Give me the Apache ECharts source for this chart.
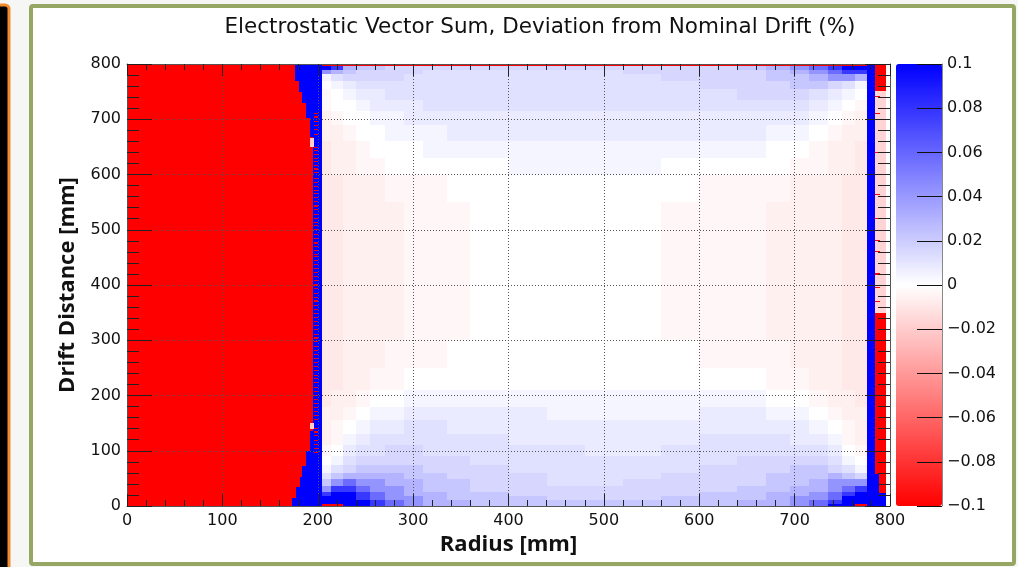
<!DOCTYPE html>
<html><head><meta charset="utf-8">
<script src="https://cdn.jsdelivr.net/npm/echarts@6/dist/echarts.min.js"></script>
<style>html,body{margin:0;padding:0;background:#f6f6f4;}#c{width:1018px;height:567px;}</style>
</head><body><div id="c"></div>
<script>
// ---------------- DATA ----------------
const titleText = 'Electrostatic Vector Sum, Deviation from Nominal Drift (%)';
const xName = 'Radius [mm]';
const yName = 'Drift Distance [mm]';
const colorMin = -0.1, colorMax = 0.1;

// value code -> deviation (%)
const codeValue = {'.':0,'1':0.004,'2':0.008,'3':0.012,'4':0.016,'5':0.022,'6':0.03,'7':0.042,'8':0.058,'9':0.078,'X':0.1,
  'a':-0.003,'b':-0.006,'c':-0.009,'d':-0.015,'R':-0.1};

// interior field (radius 204..776 mm), bin edges
const interiorX = [204,214,226,240,255,270,290,310,335,360,400,440,480,520,560,600,640,670,695,715,735,750,763,776];
const interiorY = [0,4,10,18,26,36,48,60,75,90,110,130,155,180,210,250,300,350,400,450,500,550,600,
  630,660,690,715,735,755,770,782,790,796,800];
// one string per y bin (bottom -> top), one char per x bin
const interiorRows = [
  'RRXX9876655555556678XXR',
  'XXXX98766555555566789XX',
  'XXX987765554445556778XX',
  '9XX9876655444445566789X',
  '79987765544444445566789',
  '57877665544334444556777',
  '35666655444333444555654',
  '13455554443333344455431',
  '.134444443333333444431.',
  'a.2334433333223333332.a',
  'ba1233333322222333221ab',
  'ba.12233222222222221.ab',
  'bba.112222211112211.abb',
  'cbba..11111111111..abbc',
  'ccbbaa...........aabbcc',
  'ccbbbaaa.......aaabbbcc',
  'ccbbbbaaa.....aaabbbbcc',
  'ccbbbbaaa.....aaabbbbcc',
  'ccbbbbaaa.....aaabbbbcc',
  'ccbbbbaaa.....aaabbbbcc',
  'ccbbbbaaa.....aaabbbbcc',
  'ccbbbaaa.......aaabbbcc',
  'cbbaa.....1111....aabbc',
  'cbba...1111111111..abbc',
  'bba..11122222222211.abb',
  'ba..1122222222222221.ab',
  'a..122233333333333321.a',
  'a.12233333333333444321.',
  '.1233333333333344455431',
  '13444433333333444556776',
  '76544443333334444567899',
  'X96554444444444456789XX',
  'RRRRRRRRRRRRRRRRRRRRRRR'
];

// left (inner) wall: [y0, y1, red edge x, blue edge x]
const leftWallRows = [
  [0,14,173,204],[14,34,177,204],[34,52,181,204],[52,72,184,204],[72,100,188,204],
  [100,136,192,204],[136,668,195,204],[668,702,192,204],[702,730,188,204],
  [730,750,184,204],[750,770,180,204],[770,800,176,204]
];
// red dashes inside the left blue wall (y, mm)
const leftDashY = [97,104,112,119,127,134,141,156,163,171,178,186,193,200,208,215,223,230,237,245,252,260,
  267,274,282,289,297,304,311,319,326,334,341,348,356,363,371,378,385,393,400,408,415,422,430,437,
  444,451,456,463,469,476,484,492,500,507,513,521,528,536,543,551,559,566,571,578,585,593,604,610,
  617,623,629,637,643,649,673,682,688,696,704,711];
const leftDashX = [196, 200];
// pale bins at the left wall: [x0,x1,y0,y1,value]
const leftPale = [[192,196,140,151,-0.02],[192,196,650,666,-0.02]];

// outer wall columns: [x0, x1, y0, y1, value]
const rightWall = [
  [776,784,0,800,0.1],
  [784,796,0,24,0.1],
  [784,788,24,58,0.1],[788,796,24,58,-0.1],
  [784,796,58,350,-0.1],
  [784,796,350,752,-0.017],
  [784,796,752,800,-0.1],
  [796,800,0,800,0]
];
// red dashes in the outer wall (y, mm)
const rightDashY = [741,711,640,600,563,521,481,460,420,395,370];
const rightDashX = [784, 789];

// ---------------- build cells ----------------
const cells = [];
leftWallRows.forEach(r => {
  cells.push([0, r[2], r[0], r[1], colorMin]);
  cells.push([r[2], r[3], r[0], r[1], colorMax]);
});
leftPale.forEach(c => cells.push(c));
leftDashY.forEach(y => cells.push([leftDashX[0], leftDashX[1], y - 1, y + 1, colorMin]));
interiorRows.forEach((row, j) => {
  for (let i = 0; i < row.length; i++) {
    cells.push([interiorX[i], interiorX[i + 1], interiorY[j], interiorY[j + 1], codeValue[row[i]]]);
  }
});
rightWall.forEach(c => cells.push(c));
rightDashY.forEach(y => cells.push([rightDashX[0], rightDashX[1], y - 1, y + 1, colorMin]));

// ---------------- chart ----------------
const FONT = '"DejaVu Sans", "Liberation Sans", Arial, sans-serif';
const NAMEFONT = '"Open Sans", Lato, sans-serif';
const minus = s => s.replace('-', '\u2212');
const gridLine = {show: true, lineStyle: {color: '#555', type: [1, 2], width: 1}};

function mainAxis(extra) {
  return Object.assign({
    type: 'value', min: 0, max: 800, interval: 100, gridIndex: 0, z: 10,
    axisLine: {show: true, onZero: false, lineStyle: {color: '#555', width: 1}},
    splitLine: {show: false},
    axisLabel: {show: false}
  }, extra);
}

const chart = echarts.init(document.getElementById('c'), null, {renderer: 'canvas'});
chart.setOption({
  backgroundColor: '#f6f6f4',
  animation: false,
  graphic: [
    {type: 'rect', z: -10, shape: {x: -8, y: 5, width: 17, height: 620, r: 4},
      style: {fill: '#000', stroke: '#f28a2e', lineWidth: 3}},
    {type: 'rect', z: -10, shape: {x: 31, y: 6, width: 983, height: 558, r: 2},
      style: {fill: '#fff', stroke: '#95a763', lineWidth: 4}}
  ],
  title: {
    text: titleText, left: 535, top: 11, textAlign: 'center',
    textStyle: {fontFamily: FONT, fontWeight: 'normal', fontSize: 21.5, color: '#111'}
  },
  grid: [
    {left: 127, top: 64, width: 763, height: 442},
    {left: 896, top: 64, width: 46, height: 442}
  ],
  xAxis: [
    mainAxis({
      position: 'bottom',
      axisTick: {show: true, inside: true, length: 12, lineStyle: {color: '#222'}},
      minorTick: {show: true, splitNumber: 5, length: 6, lineStyle: {color: '#222'}},
      splitLine: gridLine,
      axisLabel: {show: true, margin: 7, fontFamily: FONT, fontSize: 16, color: '#111'},
      name: xName, nameLocation: 'middle', nameGap: 20,
      nameTextStyle: {fontFamily: NAMEFONT, fontWeight: 'bold', fontSize: 22, color: '#111'}
    }),
    mainAxis({
      position: 'top',
      axisTick: {show: true, inside: true, length: 12, lineStyle: {color: '#222'}},
      minorTick: {show: true, splitNumber: 5, length: 6, lineStyle: {color: '#222'}}
    }),
    {type: 'value', gridIndex: 1, show: false, min: 0, max: 1}
  ],
  yAxis: [
    mainAxis({
      position: 'left',
      axisTick: {show: true, inside: true, length: 25, lineStyle: {color: '#222'}},
      minorTick: {show: true, splitNumber: 5, length: 12, lineStyle: {color: '#222'}},
      splitLine: gridLine,
      axisLabel: {show: true, margin: 6, fontFamily: FONT, fontSize: 16, color: '#111'},
      name: yName, nameLocation: 'middle', nameGap: 48, nameRotate: 90,
      nameTextStyle: {fontFamily: NAMEFONT, fontWeight: 'bold', fontSize: 22, color: '#111'}
    }),
    mainAxis({
      position: 'right',
      axisTick: {show: true, inside: true, length: 25, lineStyle: {color: '#222'}},
      minorTick: {show: true, splitNumber: 5, length: 12, lineStyle: {color: '#222'}}
    }),
    {
      type: 'value', gridIndex: 1, position: 'right', min: colorMin, max: colorMax, interval: 0.02, z: 10,
      axisLine: {show: true, onZero: false, lineStyle: {color: '#888'}},
      axisTick: {show: true, inside: true, length: 25, lineStyle: {color: '#111'}},
      splitLine: {show: false},
      axisLabel: {show: true, margin: 5, fontFamily: FONT, fontSize: 16, color: '#111',
        formatter: v => minus(String(parseFloat(v.toFixed(2))))}
    }
  ],
  visualMap: {
    type: 'continuous', min: colorMin, max: colorMax, dimension: 4, seriesIndex: 0,
    orient: 'vertical', left: 896, top: 64, itemWidth: 46, itemHeight: 442, padding: 0,
    calculable: false, realtime: false, hoverLink: false,
    inRange: {color: ['#ff0000', '#ffffff', '#0000ff']}
  },
  series: [{
    type: 'custom', xAxisIndex: 0, yAxisIndex: 0, z: 2, clip: true, silent: true,
    encode: {x: [0, 1], y: [2, 3]},
    data: cells,
    renderItem: function (params, api) {
      const a = api.coord([api.value(0), api.value(3)]);
      const b = api.coord([api.value(1), api.value(2)]);
      const x0 = Math.round(a[0]), y0 = Math.round(a[1]);
      const x1 = Math.round(b[0]), y1 = Math.round(b[1]);
      return {type: 'rect', shape: {x: x0, y: y0, width: Math.max(1, x1 - x0), height: Math.max(1, y1 - y0)},
        style: {fill: api.visual('color')}};
    }
  }]
});
</script>
</body></html>
